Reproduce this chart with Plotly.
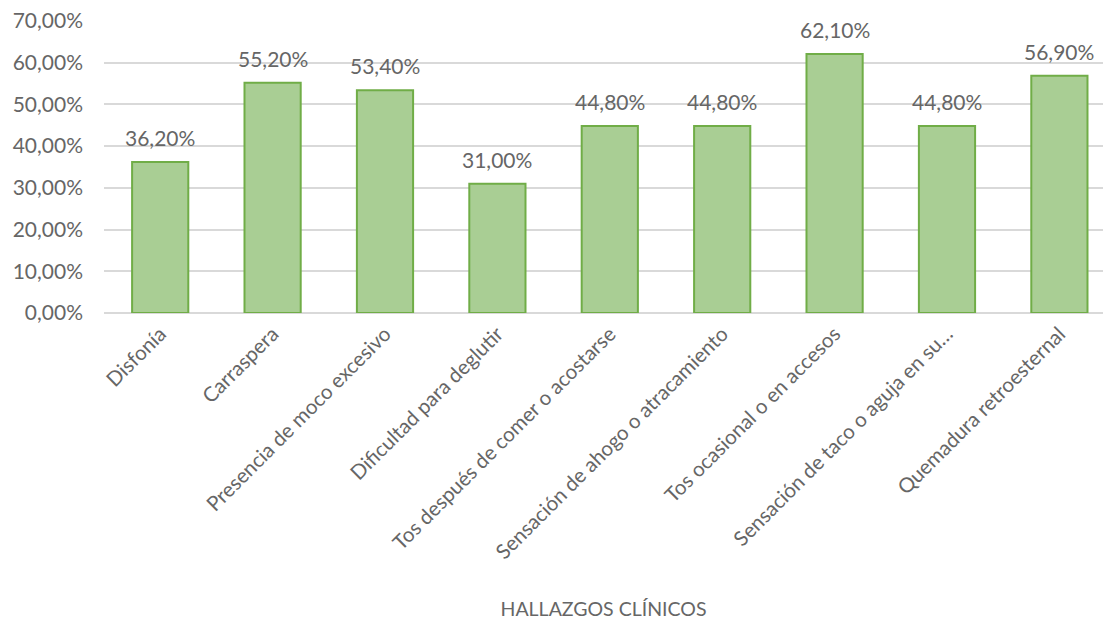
import plotly.graph_objects as go

categories = [
    "Disfonía",
    "Carraspera",
    "Presencia de moco excesivo",
    "Dificultad para deglutir",
    "Tos después de comer o acostarse",
    "Sensación de ahogo o atracamiento",
    "Tos ocasional o en accesos",
    "Sensación de taco o aguja en su…",
    "Quemadura retroesternal",
]
values = [0.362, 0.552, 0.534, 0.310, 0.448, 0.448, 0.621, 0.448, 0.569]
y_ticks = [0, 0.1, 0.2, 0.3, 0.4, 0.5, 0.6, 0.7]

FONT = "Lato"
GRAY = "#666666"

x_pos = list(range(len(categories)))

fig = go.Figure(
    go.Bar(
        x=x_pos,
        y=values,
        width=0.5,
        marker=dict(color="#a9ce94", line=dict(color="#70ad47", width=2)),
        hovertemplate="%{y:.2%}<extra></extra>",
    )
)

for xi, v in zip(x_pos, values):
    fig.add_annotation(
        x=xi,
        y=v,
        text=f"{v * 100:.2f}%".replace(".", ","),
        showarrow=False,
        yanchor="bottom",
        yshift=10,
        font=dict(family=FONT, size=21, color=GRAY),
    )

fig.update_layout(
    width=1103,
    height=628,
    margin=dict(l=104, r=0, t=21, b=315),
    paper_bgcolor="white",
    plot_bgcolor="white",
    separators=",.",
    showlegend=False,
)

fig.update_xaxes(
    range=[-0.5, 8.388],
    tickmode="array",
    tickvals=x_pos,
    ticktext=categories,
    tickangle=-45,
    tickfont=dict(family=FONT, size=20.5, color=GRAY),
    showgrid=False,
    zeroline=False,
    showline=False,
    ticks="",
    ticklabelstandoff=4,
    title=dict(text="HALLAZGOS CLÍNICOS", font=dict(family=FONT, size=19.5, color=GRAY), standoff=40),
)

fig.update_yaxes(
    range=[0, 0.7],
    tickvals=y_ticks,
    tickformat=".2%",
    tickfont=dict(family=FONT, size=21, color=GRAY),
    showgrid=True,
    gridcolor="#d9d9d9",
    gridwidth=1.5,
    zeroline=True,
    zerolinecolor="#d9d9d9",
    zerolinewidth=1.5,
    ticks="",
    ticklabelstandoff=20,
)

fig.write_html("out.html")
